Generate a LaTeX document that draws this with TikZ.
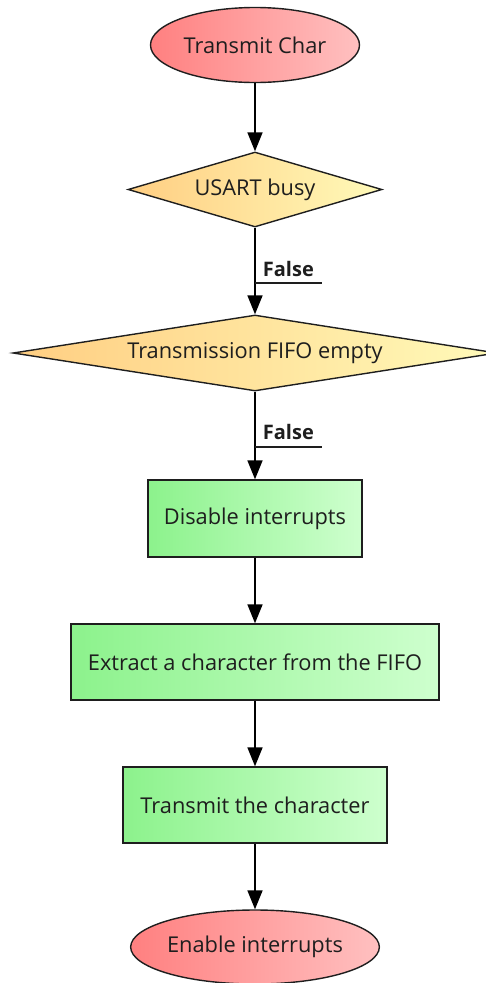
\documentclass[tikz,border=0pt]{standalone}
\usepackage{fontspec}
\setmainfont{Open Sans}
\usetikzlibrary{shapes.geometric,arrows.meta}

\definecolor{termL}{RGB}{255,128,128}
\definecolor{termR}{RGB}{255,192,192}
\definecolor{condL}{RGB}{255,206,130}
\definecolor{condR}{RGB}{255,250,185}
\definecolor{procL}{RGB}{140,242,140}
\definecolor{procR}{RGB}{206,255,206}
\definecolor{ink}{RGB}{30,30,30}

\begin{document}
\begin{tikzpicture}[x=1pt,y=-1pt,
  base/.style={draw=ink, line width=1.4pt, text=ink, inner sep=0pt,
    font=\fontsize{21.8}{25}\selectfont},
  term/.style={base, ellipse, left color=termL, right color=termR},
  cond/.style={base, diamond, left color=condL, right color=condR},
  proc/.style={base, rectangle, left color=procL, right color=procR},
  arr/.style={draw=black, line width=1.8pt,
    -{Triangle[length=19pt,width=15pt]}},
  flabel/.style={font=\fontsize{20}{23}\selectfont\bfseries, text=ink,
    anchor=south west, inner xsep=7pt, inner ysep=6pt},
  uline/.style={draw=ink, line width=1.4pt}
]
\useasboundingbox (0,0) rectangle (485,983);

\node[term, minimum width=209pt, minimum height=75pt] (start) at (255,45) {Transmit Char};
\node[cond, aspect=4, minimum width=254pt, minimum height=75pt] (busy) at (255,189.5) {USART busy};
\node[cond, aspect=7, minimum width=484pt, minimum height=76pt] (empty) at (255,353) {Transmission FIFO empty};
\node[proc, minimum width=214pt, minimum height=77pt] (dis) at (255,518.5) {Disable interrupts};
\node[proc, minimum width=368pt, minimum height=76pt] (extract) at (255,662) {Extract a character from the FIFO};
\node[proc, minimum width=264pt, minimum height=76pt] (send) at (255,805) {Transmit the character};
\node[term, minimum width=246pt, minimum height=74pt] (en) at (255,947) {Enable interrupts};

\draw[arr] (start) -- (busy);
\draw[arr] (busy) -- node[flabel, pos=0.64] (f1) {False} (empty);
\draw[arr] (empty) -- node[flabel, pos=0.63] (f2) {False} (dis);
\draw[arr] (dis) -- (extract);
\draw[arr] (extract) -- (send);
\draw[arr] (send) -- (en);

\draw[uline] (f1.south west) -- (f1.south east);
\draw[uline] (f2.south west) -- (f2.south east);
\end{tikzpicture}
\end{document}
